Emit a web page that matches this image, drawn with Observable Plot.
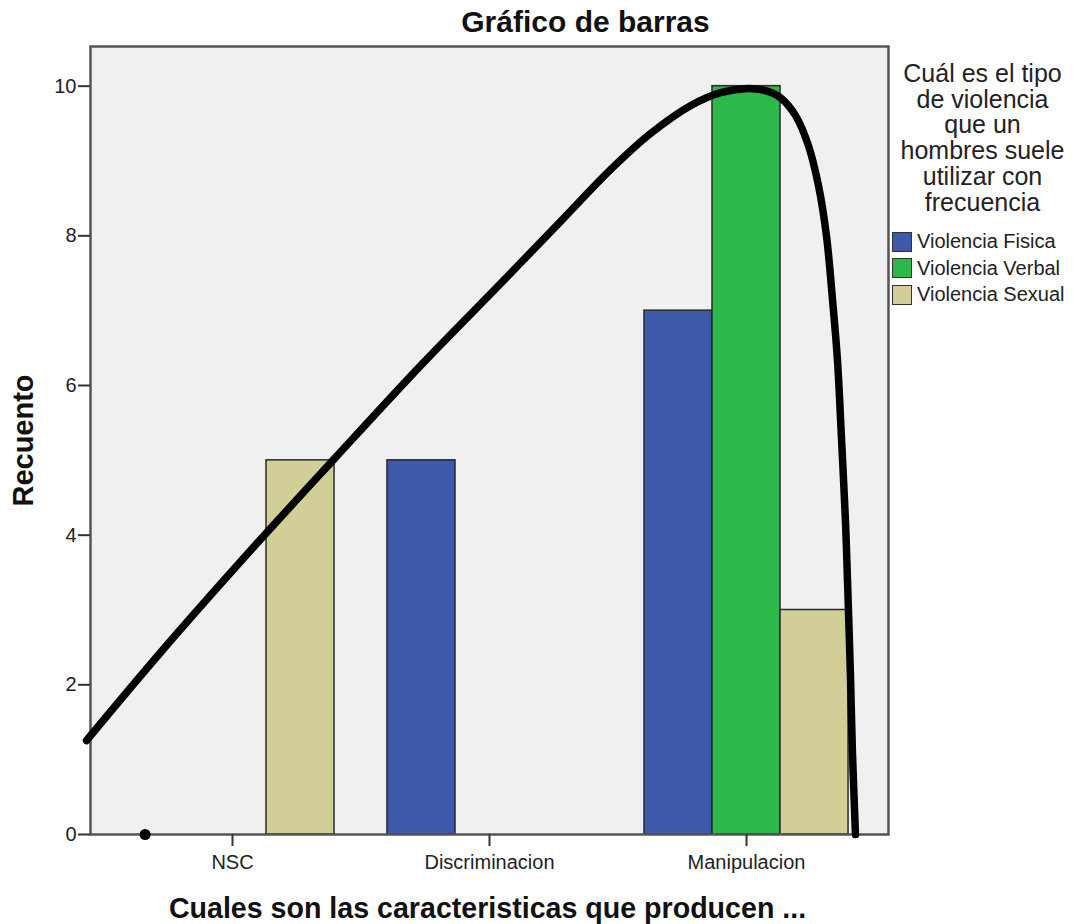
<!DOCTYPE html>
<html>
<head>
<meta charset="utf-8">
<script src="https://cdn.jsdelivr.net/npm/d3@7"></script>
<script src="https://cdn.jsdelivr.net/npm/@observablehq/plot@0.6"></script>
<style>
  html, body { margin: 0; padding: 0; background: white; }
  #wrap { position: relative; width: 1081px; height: 924px; font-family: "Liberation Sans", Arial, sans-serif; color: #222; }
  #legend { position: absolute; left: 880px; top: 0; width: 201px; }
  #legend .ltitle { position: absolute; left: 0; width: 205px; top: 61px; text-align: center; font-size: 25px; line-height: 25.7px; }
  #legend .item { position: absolute; left: 12px; display: flex; align-items: center; font-size: 20px; white-space: nowrap; }
  #legend .sw { width: 18px; height: 18px; border: 1px solid #333; margin-right: 5px; }
</style>
</head>
<body>
<div id="wrap"><div id="legend"></div></div>
<script>
const categories = ["NSC", "Discriminacion", "Manipulacion"];
const seriesNames = ["Violencia Fisica", "Violencia Verbal", "Violencia Sexual"];
const fisica = [0, 5, 7];
const verbal = [0, 0, 10];
const sexual = [5, 0, 3];
const seriesColors = ["#3E58AA", "#2EB84A", "#D2CE98"];
const yTicks = [0, 2, 4, 6, 8, 10];
const legendTitle = ["Cuál es el tipo", "de violencia", "que un", "hombres suele", "utilizar con", "frecuencia"];
// hand-drawn curve (x in category units, y in counts)
const curveX = [-0.568, -0.280, 0.070, 0.397, 0.732, 1.043, 1.276, 1.471, 1.626, 1.782, 1.899, 1.996, 2.074, 2.132, 2.191, 2.241, 2.280, 2.311, 2.335, 2.354, 2.370, 2.385, 2.393, 2.405, 2.412, 2.424];
const curveY = [1.256, 2.432, 3.794, 5.023, 6.266, 7.361, 8.190, 8.884, 9.365, 9.739, 9.913, 9.967, 9.940, 9.846, 9.606, 9.205, 8.671, 8.003, 7.134, 6.333, 5.264, 4.195, 3.393, 2.057, 1.122, 0.0];

const seriesValues = [fisica, verbal, sexual];
const groupWidth = 0.794, barW = groupWidth / 3;
const bars = [];
categories.forEach((c, i) => {
  seriesNames.forEach((s, k) => {
    const v = seriesValues[k][i];
    if (v > 0) bars.push({cat: c, series: s, value: v, x1: i - groupWidth / 2 + k * barW, x2: i - groupWidth / 2 + (k + 1) * barW});
  });
});
const curve = curveX.map((x, i) => ({x, y: curveY[i]}));

const chart = Plot.plot({
  width: 1081, height: 924,
  marginLeft: 90, marginRight: 193, marginTop: 46, marginBottom: 90,
  x: {domain: [-0.5525, 2.5525]},
  y: {domain: [0, 10.53]},
  color: {domain: seriesNames, range: seriesColors},
  style: {fontFamily: "Liberation Sans, Arial, sans-serif", fontSize: "20px", color: "#222", background: "white", overflow: "visible"},
  marks: [
    Plot.frame({fill: "#f0f0f0"}),
    Plot.rect(bars, {x1: "x1", x2: "x2", y1: 0, y2: "value", fill: "series", stroke: "#2a2a2a", strokeWidth: 1.5}),
    Plot.frame({stroke: "#555", strokeWidth: 2.5}),
    Plot.axisY({ticks: yTicks, tickSize: 12, tickPadding: 2, fontSize: 20, strokeWidth: 2, stroke: "#333", label: null}),
    Plot.axisX({ticks: [0, 1, 2], tickFormat: i => categories[i], tickSize: 12, tickPadding: 8, fontSize: 20, strokeWidth: 2, stroke: "#333", label: null}),
    Plot.line(curve, {x: "x", y: "y", curve: "catmull-rom", stroke: "black", strokeWidth: 7.5, strokeLinecap: "round", strokeLinejoin: "round"}),
    Plot.dot([{x: -0.34, y: 0}], {x: "x", y: "y", r: 5.5, fill: "black"}),
    Plot.text(["Gráfico de barras"], {text: d => d, frameAnchor: "top", dx: 96, dy: -24, fontSize: 30, fontWeight: "bold", lineAnchor: "middle", fill: "#111"}),
    Plot.text(["Recuento"], {text: d => d, frameAnchor: "left", textAnchor: "middle", rotate: -90, dx: -67, fontSize: 29, fontWeight: "bold", lineAnchor: "middle", fill: "#111"}),
    Plot.text(["Cuales son las caracteristicas que producen ..."], {text: d => d, frameAnchor: "bottom", dx: -2, dy: 74, fontSize: 28.6, fontWeight: "bold", lineAnchor: "middle", fill: "#111"})
  ]
});
document.getElementById("wrap").prepend(chart);

const legend = document.getElementById("legend");
const t = document.createElement("div");
t.className = "ltitle";
t.innerHTML = legendTitle.join("<br>");
legend.appendChild(t);
seriesNames.forEach((s, k) => {
  const row = document.createElement("div");
  row.className = "item";
  row.style.top = (230 + k * 26.5) + "px";
  const sw = document.createElement("div");
  sw.className = "sw";
  sw.style.background = seriesColors[k];
  const lab = document.createElement("span");
  lab.textContent = s;
  row.appendChild(sw);
  row.appendChild(lab);
  legend.appendChild(row);
});
</script>
</body>
</html>
